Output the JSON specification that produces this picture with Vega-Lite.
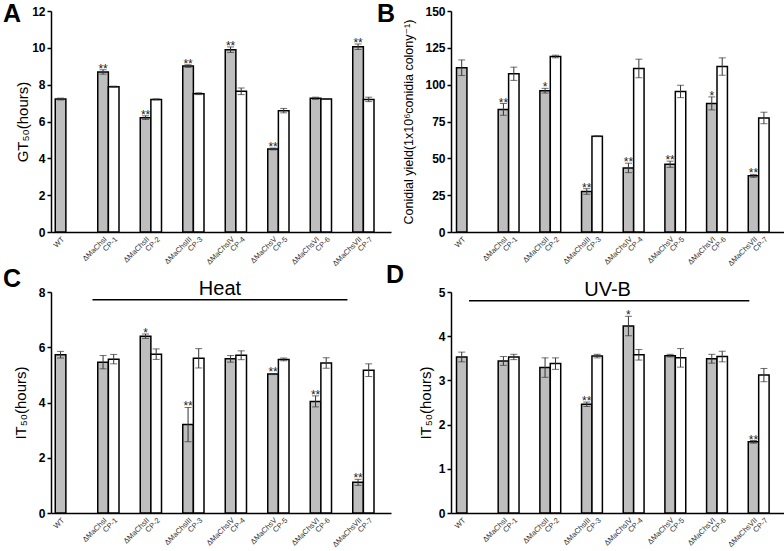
{
  "$schema": "https://vega.github.io/schema/vega-lite/v6.json",
  "padding": {"left": 3, "top": 2, "right": 0, "bottom": 0},
  "background": "white",
  "config": {
    "view": {"stroke": null},
    "font": "Liberation Sans",
    "axis": {"grid": false, "domainColor": "black", "domainWidth": 1.5, "tickColor": "black", "tickWidth": 1.5, "tickSize": 4, "labelFont": "Liberation Sans", "titleFont": "Liberation Sans, DejaVu Sans"},
    "axisY": {"titleFontWeight": "normal", "titleColor": "black", "titleBaseline": "middle", "labelFontSize": 12, "labelFontWeight": "bold", "labelColor": "black", "labelPadding": 2},
    "title": {"font": "Liberation Sans", "fontSize": 25, "fontWeight": "bold", "anchor": "start", "frame": "group", "baseline": "alphabetic", "offset": 0, "color": "black"}
  },
  "datasets": {
    "A": [
      {"g": "WT", "v": 7.22, "e": 0.05, "s": "", "k": "m"},
      {"g": "ΔMaChsI", "v": 8.69, "e": 0.12, "s": "**", "k": "m"},
      {"g": "CP-1", "v": 7.89, "e": 0.03, "s": "", "k": "c"},
      {"g": "ΔMaChsII", "v": 6.21, "e": 0.1, "s": "**", "k": "m"},
      {"g": "CP-2", "v": 7.2, "e": 0.03, "s": "", "k": "c"},
      {"g": "ΔMaChsIII", "v": 9.01, "e": 0.07, "s": "**", "k": "m"},
      {"g": "CP-3", "v": 7.51, "e": 0.05, "s": "", "k": "c"},
      {"g": "ΔMaChsIV", "v": 9.9, "e": 0.15, "s": "**", "k": "m"},
      {"g": "CP-4", "v": 7.64, "e": 0.18, "s": "", "k": "c"},
      {"g": "ΔMaChsV", "v": 4.51, "e": 0.05, "s": "**", "k": "m"},
      {"g": "CP-5", "v": 6.59, "e": 0.12, "s": "", "k": "c"},
      {"g": "ΔMaChsVI", "v": 7.26, "e": 0.06, "s": "", "k": "m"},
      {"g": "CP-6", "v": 7.22, "e": 0.02, "s": "", "k": "c"},
      {"g": "ΔMaChsVII", "v": 10.06, "e": 0.15, "s": "**", "k": "m"},
      {"g": "CP-7", "v": 7.2, "e": 0.12, "s": "", "k": "c"}
    ],
    "B": [
      {"g": "WT", "v": 111.5, "e": 5.3, "s": "", "k": "m"},
      {"g": "ΔMaChsI", "v": 83.2, "e": 4.0, "s": "**", "k": "m"},
      {"g": "CP-1", "v": 107.4, "e": 4.5, "s": "", "k": "c"},
      {"g": "ΔMaChsII", "v": 95.9, "e": 1.6, "s": "*", "k": "m"},
      {"g": "CP-2", "v": 119.1, "e": 0.9, "s": "", "k": "c"},
      {"g": "ΔMaChsIII", "v": 27.5, "e": 1.9, "s": "**", "k": "m"},
      {"g": "CP-3", "v": 65.0, "e": 0.3, "s": "", "k": "c"},
      {"g": "ΔMaChsIV", "v": 43.5, "e": 3.2, "s": "**", "k": "m"},
      {"g": "CP-4", "v": 111.0, "e": 6.3, "s": "", "k": "c"},
      {"g": "ΔMaChsV", "v": 46.0, "e": 2.1, "s": "**", "k": "m"},
      {"g": "CP-5", "v": 95.4, "e": 4.2, "s": "", "k": "c"},
      {"g": "ΔMaChsVI", "v": 87.3, "e": 4.4, "s": "*", "k": "m"},
      {"g": "CP-6", "v": 112.3, "e": 5.9, "s": "", "k": "c"},
      {"g": "ΔMaChsVII", "v": 38.1, "e": 1.0, "s": "**", "k": "m"},
      {"g": "CP-7", "v": 77.4, "e": 3.9, "s": "", "k": "c"}
    ],
    "C": [
      {"g": "WT", "v": 5.73, "e": 0.12, "s": "", "k": "m"},
      {"g": "ΔMaChsI", "v": 5.46, "e": 0.24, "s": "", "k": "m"},
      {"g": "CP-1", "v": 5.57, "e": 0.17, "s": "", "k": "c"},
      {"g": "ΔMaChsII", "v": 6.4, "e": 0.08, "s": "*", "k": "m"},
      {"g": "CP-2", "v": 5.75, "e": 0.19, "s": "", "k": "c"},
      {"g": "ΔMaChsIII", "v": 3.2, "e": 0.62, "s": "**", "k": "m"},
      {"g": "CP-3", "v": 5.6, "e": 0.35, "s": "", "k": "c"},
      {"g": "ΔMaChsIV", "v": 5.58, "e": 0.12, "s": "", "k": "m"},
      {"g": "CP-4", "v": 5.71, "e": 0.16, "s": "", "k": "c"},
      {"g": "ΔMaChsV", "v": 5.03, "e": 0.02, "s": "**", "k": "m"},
      {"g": "CP-5", "v": 5.56, "e": 0.05, "s": "", "k": "c"},
      {"g": "ΔMaChsVI", "v": 4.04, "e": 0.2, "s": "**", "k": "m"},
      {"g": "CP-6", "v": 5.43, "e": 0.19, "s": "", "k": "c"},
      {"g": "ΔMaChsVII", "v": 1.11, "e": 0.11, "s": "**", "k": "m"},
      {"g": "CP-7", "v": 5.17, "e": 0.23, "s": "", "k": "c"}
    ],
    "D": [
      {"g": "WT", "v": 3.53, "e": 0.11, "s": "", "k": "m"},
      {"g": "ΔMaChsI", "v": 3.44, "e": 0.1, "s": "", "k": "m"},
      {"g": "CP-1", "v": 3.53, "e": 0.06, "s": "", "k": "c"},
      {"g": "ΔMaChsII", "v": 3.29, "e": 0.22, "s": "", "k": "m"},
      {"g": "CP-2", "v": 3.38, "e": 0.13, "s": "", "k": "c"},
      {"g": "ΔMaChsIII", "v": 2.46, "e": 0.05, "s": "**", "k": "m"},
      {"g": "CP-3", "v": 3.55, "e": 0.04, "s": "", "k": "c"},
      {"g": "ΔMaChsIV", "v": 4.23, "e": 0.22, "s": "*", "k": "m"},
      {"g": "CP-4", "v": 3.58, "e": 0.12, "s": "", "k": "c"},
      {"g": "ΔMaChsV", "v": 3.56, "e": 0.03, "s": "", "k": "m"},
      {"g": "CP-5", "v": 3.51, "e": 0.21, "s": "", "k": "c"},
      {"g": "ΔMaChsVI", "v": 3.49, "e": 0.1, "s": "", "k": "m"},
      {"g": "CP-6", "v": 3.54, "e": 0.12, "s": "", "k": "c"},
      {"g": "ΔMaChsVII", "v": 1.61, "e": 0.03, "s": "**", "k": "m"},
      {"g": "CP-7", "v": 3.12, "e": 0.15, "s": "", "k": "c"}
    ]
  },
  "columns": 2,
  "bounds": "flush",
  "spacing": {"row": 60, "column": 60},
  "concat": [
    {
      "width": 340, "height": 221,
      "title": {"text": "A", "dx": -48, "dy": 26},
      "data": {"name": "A"},
      "encoding": {
        "x": {"field": "g", "type": "nominal", "sort": null,
          "scale": {"domain": ["WT","_1","_2","_3","ΔMaChsI","CP-1","_4","_5","ΔMaChsII","CP-2","_6","_7","ΔMaChsIII","CP-3","_8","_9","ΔMaChsIV","CP-4","_10","_11","ΔMaChsV","CP-5","_12","_13","ΔMaChsVI","CP-6","_14","_15","ΔMaChsVII","CP-7"], "paddingInner": 0, "paddingOuter": 1.315, "align": 0.2},
          "axis": {"title": null, "ticks": false, "labelAngle": -45, "labelFontSize": 7.5, "labelColor": "#333", "labelPadding": 3, "labelExpr": "indexof(datum.label, '_') == 0 ? '' : datum.label"}}
      },
      "layer": [
        {"mark": {"type": "bar", "stroke": "black", "strokeWidth": 1.5},
         "encoding": {
           "y": {"field": "v", "type": "quantitative", "title": "GT₅₀(hours)", "scale": {"domain": [0, 12], "nice": false},
             "axis": {"titleFontSize": 15, "titleX": -29, "values": [0,2,4,6,8,10,12]}},
           "fill": {"field": "k", "type": "nominal", "scale": {"domain": ["m","c"], "range": ["#bebebe","#ffffff"]}, "legend": null}}},
        {"mark": {"type": "errorbar", "ticks": true, "size": 7, "thickness": 1, "color": "#333"},
         "encoding": {"y": {"field": "v", "type": "quantitative", "title": "GT₅₀(hours)", "axis": {"titleFontSize": 15, "titleX": -29, "values": [0,2,4,6,8,10,12]}}, "yError": {"field": "e"}}},
        {"transform": [{"filter": "datum.s != ''"}, {"calculate": "datum.v + datum.e", "as": "top"}],
         "mark": {"type": "text", "fontSize": 12, "baseline": "alphabetic", "dy": 3, "color": "#222"},
         "encoding": {"y": {"field": "top", "type": "quantitative", "title": "GT₅₀(hours)", "axis": {"titleFontSize": 15, "titleX": -29, "values": [0,2,4,6,8,10,12]}}, "text": {"field": "s"}}}
      ]
    },
    {
      "width": 333, "height": 221,
      "title": {"text": "B", "dx": -74, "dy": 26},
      "data": {"name": "B"},
      "encoding": {
        "x": {"field": "g", "type": "nominal", "sort": null,
          "scale": {"domain": ["WT","_1","_2","_3","ΔMaChsI","CP-1","_4","_5","ΔMaChsII","CP-2","_6","_7","ΔMaChsIII","CP-3","_8","_9","ΔMaChsIV","CP-4","_10","_11","ΔMaChsV","CP-5","_12","_13","ΔMaChsVI","CP-6","_14","_15","ΔMaChsVII","CP-7"], "paddingInner": 0, "paddingOuter": 0.979, "align": 0.27},
          "axis": {"title": null, "ticks": false, "labelAngle": -45, "labelFontSize": 7.5, "labelColor": "#333", "labelPadding": 3, "labelExpr": "indexof(datum.label, '_') == 0 ? '' : datum.label"}}
      },
      "layer": [
        {"mark": {"type": "bar", "stroke": "black", "strokeWidth": 1.5},
         "encoding": {
           "y": {"field": "v", "type": "quantitative", "title": "Conidial yield(1x10⁶conidia colony⁻¹)", "scale": {"domain": [0, 150], "nice": false},
             "axis": {"titleFontSize": 12.5, "titleX": -43, "values": [0,25,50,75,100,125,150]}},
           "fill": {"field": "k", "type": "nominal", "scale": {"domain": ["m","c"], "range": ["#bebebe","#ffffff"]}, "legend": null}}},
        {"mark": {"type": "errorbar", "ticks": true, "size": 7, "thickness": 1, "color": "#333"},
         "encoding": {"y": {"field": "v", "type": "quantitative", "title": "Conidial yield(1x10⁶conidia colony⁻¹)", "axis": {"titleFontSize": 12.5, "titleX": -43, "values": [0,25,50,75,100,125,150]}}, "yError": {"field": "e"}}},
        {"transform": [{"filter": "datum.s != ''"}, {"calculate": "datum.v + datum.e", "as": "top"}],
         "mark": {"type": "text", "fontSize": 12, "baseline": "alphabetic", "dy": 3, "color": "#222"},
         "encoding": {"y": {"field": "top", "type": "quantitative", "title": "Conidial yield(1x10⁶conidia colony⁻¹)", "axis": {"titleFontSize": 12.5, "titleX": -43, "values": [0,25,50,75,100,125,150]}}, "text": {"field": "s"}}}
      ]
    },
    {
      "width": 340, "height": 221,
      "title": {"text": "C", "dx": -48, "dy": 17},
      "data": {"name": "C"},
      "encoding": {
        "x": {"field": "g", "type": "nominal", "sort": null,
          "scale": {"domain": ["WT","_1","_2","_3","ΔMaChsI","CP-1","_4","_5","ΔMaChsII","CP-2","_6","_7","ΔMaChsIII","CP-3","_8","_9","ΔMaChsIV","CP-4","_10","_11","ΔMaChsV","CP-5","_12","_13","ΔMaChsVI","CP-6","_14","_15","ΔMaChsVII","CP-7"], "paddingInner": 0, "paddingOuter": 1.315, "align": 0.2},
          "axis": {"title": null, "ticks": false, "labelAngle": -45, "labelFontSize": 7.5, "labelColor": "#333", "labelPadding": 3, "labelExpr": "indexof(datum.label, '_') == 0 ? '' : datum.label"}}
      },
      "layer": [
        {"mark": {"type": "bar", "stroke": "black", "strokeWidth": 1.5},
         "encoding": {
           "y": {"field": "v", "type": "quantitative", "title": "IT₅₀(hours)", "scale": {"domain": [0, 8], "nice": false},
             "axis": {"titleFontSize": 15, "titleX": -31, "values": [0,2,4,6,8]}},
           "fill": {"field": "k", "type": "nominal", "scale": {"domain": ["m","c"], "range": ["#bebebe","#ffffff"]}, "legend": null}}},
        {"mark": {"type": "errorbar", "ticks": true, "size": 7, "thickness": 1, "color": "#333"},
         "encoding": {"y": {"field": "v", "type": "quantitative", "title": "IT₅₀(hours)", "axis": {"titleFontSize": 15, "titleX": -31, "values": [0,2,4,6,8]}}, "yError": {"field": "e"}}},
        {"transform": [{"filter": "datum.s != ''"}, {"calculate": "datum.v + datum.e", "as": "top"}],
         "mark": {"type": "text", "fontSize": 12, "baseline": "alphabetic", "dy": 3, "color": "#222"},
         "encoding": {"y": {"field": "top", "type": "quantitative", "title": "IT₅₀(hours)", "axis": {"titleFontSize": 15, "titleX": -31, "values": [0,2,4,6,8]}}, "text": {"field": "s"}}},
        {"data": {"values": [{"label": "Heat"}]},
         "mark": {"type": "rule", "stroke": "black", "strokeWidth": 1.5},
         "encoding": {"x": {"datum": "_3", "bandPosition": 0.5}, "x2": {"datum": "_15", "bandPosition": 0.5}, "y": {"datum": 7.72, "type": "quantitative", "title": "IT₅₀(hours)", "axis": {"titleFontSize": 15, "titleX": -31, "values": [0,2,4,6,8]}}}},
        {"data": {"values": [{"label": "Heat"}]},
         "mark": {"type": "text", "fontSize": 20, "baseline": "alphabetic", "dy": -5, "color": "black"},
         "encoding": {"x": {"datum": "_9"}, "y": {"datum": 7.72, "type": "quantitative", "title": "IT₅₀(hours)", "axis": {"titleFontSize": 15, "titleX": -31, "values": [0,2,4,6,8]}}, "text": {"field": "label"}}}
      ]
    },
    {
      "width": 333, "height": 221,
      "title": {"text": "D", "dx": -65, "dy": 12},
      "data": {"name": "D"},
      "encoding": {
        "x": {"field": "g", "type": "nominal", "sort": null,
          "scale": {"domain": ["WT","_1","_2","_3","ΔMaChsI","CP-1","_4","_5","ΔMaChsII","CP-2","_6","_7","ΔMaChsIII","CP-3","_8","_9","ΔMaChsIV","CP-4","_10","_11","ΔMaChsV","CP-5","_12","_13","ΔMaChsVI","CP-6","_14","_15","ΔMaChsVII","CP-7"], "paddingInner": 0, "paddingOuter": 0.979, "align": 0.27},
          "axis": {"title": null, "ticks": false, "labelAngle": -45, "labelFontSize": 7.5, "labelColor": "#333", "labelPadding": 3, "labelExpr": "indexof(datum.label, '_') == 0 ? '' : datum.label"}}
      },
      "layer": [
        {"mark": {"type": "bar", "stroke": "black", "strokeWidth": 1.5},
         "encoding": {
           "y": {"field": "v", "type": "quantitative", "title": "IT₅₀(hours)", "scale": {"domain": [0, 5], "nice": false},
             "axis": {"titleFontSize": 15, "titleX": -26, "values": [0,1,2,3,4,5]}},
           "fill": {"field": "k", "type": "nominal", "scale": {"domain": ["m","c"], "range": ["#bebebe","#ffffff"]}, "legend": null}}},
        {"mark": {"type": "errorbar", "ticks": true, "size": 7, "thickness": 1, "color": "#333"},
         "encoding": {"y": {"field": "v", "type": "quantitative", "title": "IT₅₀(hours)", "axis": {"titleFontSize": 15, "titleX": -26, "values": [0,1,2,3,4,5]}}, "yError": {"field": "e"}}},
        {"transform": [{"filter": "datum.s != ''"}, {"calculate": "datum.v + datum.e", "as": "top"}],
         "mark": {"type": "text", "fontSize": 12, "baseline": "alphabetic", "dy": 3, "color": "#222"},
         "encoding": {"y": {"field": "top", "type": "quantitative", "title": "IT₅₀(hours)", "axis": {"titleFontSize": 15, "titleX": -26, "values": [0,1,2,3,4,5]}}, "text": {"field": "s"}}},
        {"data": {"values": [{"label": "UV-B"}]},
         "mark": {"type": "rule", "stroke": "black", "strokeWidth": 1.5},
         "encoding": {"x": {"datum": "_1", "bandPosition": 0.2}, "x2": {"datum": "ΔMaChsVII", "bandPosition": 0.1}, "y": {"datum": 4.8, "type": "quantitative", "title": "IT₅₀(hours)", "axis": {"titleFontSize": 15, "titleX": -26, "values": [0,1,2,3,4,5]}}}},
        {"data": {"values": [{"label": "UV-B"}]},
         "mark": {"type": "text", "fontSize": 20, "baseline": "alphabetic", "dy": -5, "color": "black"},
         "encoding": {"x": {"datum": "_8"}, "y": {"datum": 4.8, "type": "quantitative", "title": "IT₅₀(hours)", "axis": {"titleFontSize": 15, "titleX": -26, "values": [0,1,2,3,4,5]}}, "text": {"field": "label"}}}
      ]
    }
  ]
}
